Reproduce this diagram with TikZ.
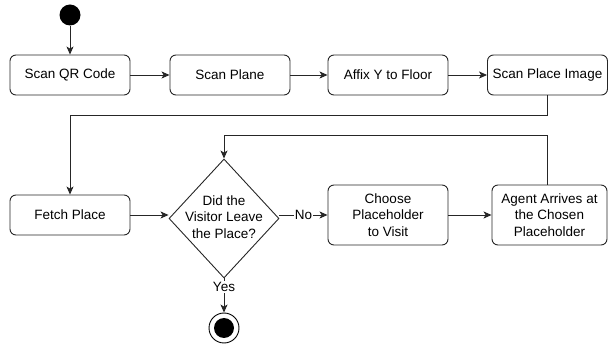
\documentclass[tikz,border=0pt]{standalone}
\usepackage{fontspec}
\setmainfont{Liberation Sans}
\usetikzlibrary{arrows.meta,shapes.geometric}
\begin{document}
\begin{tikzpicture}[x=1pt,y=-1pt,
  every node/.style={font=\fontsize{13.5}{16.5}\selectfont},
  box/.style={draw=black!85, rounded corners=6pt, line width=0.9pt, minimum width=120pt, minimum height=40pt, inner sep=0pt, align=center},
  tallbox/.style={box, minimum height=60pt},
  decision/.style={draw=black!85, diamond, line width=0.9pt, minimum width=110pt, minimum height=119pt, inner sep=0pt},
  flow/.style={draw=black!85, line width=0.9pt, -{Stealth[length=8pt,width=7pt,inset=2pt]}},
  lbl/.style={fill=white, inner sep=1pt}
]
\useasboundingbox (0,0) rectangle (608,347);
\node[circle, fill=black, minimum size=21pt, inner sep=0pt] (start) at (70,15) {};
\node[box] (qr) at (70,75) {Scan QR Code};
\node[box] (plane) at (230,75) {Scan Plane};
\node[box] (affix) at (388,75) {Affix Y to Floor};
\node[box] (img) at (547.5,75) {Scan Place Image};
\node[box] (fetch) at (70,215) {Fetch Place};
\node[decision] (dec) at (224,218.5) {};
\node[align=center] (dectext) at (224,217) {Did the\\Visitor Leave\\the Place?};
\node[tallbox] (choose) at (388,215) {Choose\\Placeholder\\to Visit};
\node[tallbox, minimum width=115pt] (agent) at (549.5,215) {Agent Arrives at\\the Chosen\\Placeholder};
\node[circle, draw=black, line width=0.9pt, minimum size=30pt, inner sep=0pt] (end) at (224,328) {};
\node[circle, fill=black, minimum size=20pt, inner sep=0pt] (endin) at (end) {};

\draw[flow] (start) -- (qr);
\draw[flow] (qr) -- (plane);
\draw[flow] (plane) -- (affix);
\draw[flow] (affix) -- (img);
\coordinate (c1) at (547.5,115);
\coordinate (c2) at (70,115);
\draw[flow] (img.south) -- (c1) -- (c2) -- (fetch.north);
\draw[flow] (fetch.east) -- (dec.west |- fetch.east);
\draw[flow] (dec.east |- choose.west) -- node[lbl] (no) {No} (choose.west);
\draw[flow] (choose) -- (agent);
\coordinate (c3) at (547.5,135);
\coordinate (c4) at (224,135);
\draw[flow] (agent.north -| c3) -- (c3) -- (c4) -- (dec.north);
\draw[flow] (dec.south) -- node[lbl, pos=0.25] (yes) {Yes} (end.north);
\end{tikzpicture}
\end{document}
